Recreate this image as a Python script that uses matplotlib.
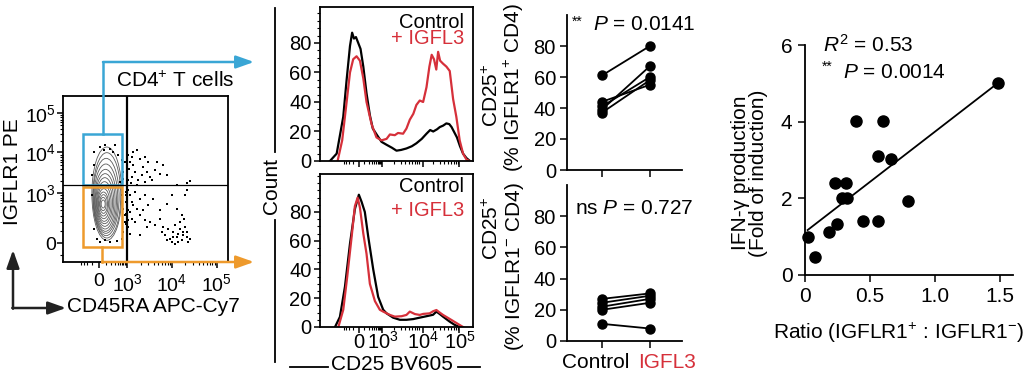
import numpy as np
import matplotlib
matplotlib.use("Agg")
import matplotlib.pyplot as plt
from matplotlib.patches import Ellipse, Rectangle
from matplotlib.ticker import MultipleLocator

W, H = 1025, 378
plt.rcParams.update({
    "font.family": ["Liberation Sans", "DejaVu Sans"],
    "font.size": 15,
    "xtick.labelsize": 14.5,
    "ytick.labelsize": 14.5,
    "mathtext.fontset": "custom",
    "mathtext.rm": "Liberation Sans",
    "mathtext.it": "Liberation Sans:italic",
    "mathtext.bf": "Liberation Sans:bold",
    "axes.linewidth": 1.3,
    "xtick.major.width": 1.1,
    "ytick.major.width": 1.1,
    "xtick.minor.width": 0.8,
    "ytick.minor.width": 0.8,
})

CYAN = "#3AA6D5"
ORANGE = "#EE9A2C"
RED = "#D6303A"

# --- flow plot (display channels) ---
contour_cx = [140, 140, 138, 137, 136, 135, 134, 133, 132, 131, 130, 130, 129, 129]
contour_cy = [205, 200, 195, 190, 185, 182, 180, 178, 176, 175, 174, 174, 174, 174]
contour_rx = [45, 42, 39, 36, 33, 30, 27, 24, 21, 18, 15, 12, 9, 6]
contour_ry = [140, 128, 116, 104, 93, 83, 73, 63, 54, 45, 36, 28, 20, 12]
dot_x = [205, 215, 210, 220, 230, 240, 250, 255, 265, 260, 245, 225, 215, 205, 235, 270, 285, 300, 310, 320,
         350, 380, 390, 290, 275, 255, 230, 212, 208, 218,
         205, 210, 215, 225, 240, 255, 265, 280, 300, 320, 335, 350, 365, 375, 380, 210, 215, 225, 240, 255,
         270, 285, 300, 240, 260, 230, 205, 210, 220, 250,
         305, 315, 325, 330, 340, 345, 350, 355, 360, 365, 370, 375, 380, 385, 390, 335, 320, 345, 360, 372,
         310, 355, 368, 382, 338,
         100, 120, 135, 150, 160, 175, 185, 190, 95, 100, 180, 185, 190, 195, 195, 190, 185, 110, 120, 135,
         150, 170, 100, 95, 195, 130, 165, 188, 198, 199,
         198, 202, 200, 203, 197, 201, 204, 199]
dot_y = [320, 315, 300, 290, 335, 310, 285, 315, 300, 270, 260, 270, 255, 245, 245, 255, 275, 265, 290, 260,
         232, 238, 242, 300, 245, 240, 232, 238, 278, 330,
         215, 200, 180, 210, 190, 200, 170, 190, 155, 175, 200, 160, 140, 200, 215, 150, 130, 120, 140, 125,
         120, 110, 130, 80, 105, 160, 105, 85, 170, 155,
         90, 80, 100, 70, 90, 110, 75, 85, 100, 65, 90, 105, 75, 60, 70, 60, 65, 55, 120, 130,
         105, 60, 80, 90, 75,
         330, 345, 350, 340, 330, 320, 305, 270, 260, 290, 240, 200, 160, 140, 120, 90, 70, 70, 60, 65,
         60, 62, 100, 200, 300, 335, 350, 250, 180, 210,
         200, 190, 170, 155, 145, 135, 125, 115]
flow_x_ticks = [117, 201, 336, 471]
flow_y_ticks = [56, 206, 329, 446]
log_labels = ["0", "10$^{3}$", "10$^{4}$", "10$^{5}$"]

# --- CD25 histograms (channel %, count) ---
top_ctrl_x = [6.5, 10.9, 15.2, 17.4, 19.6, 21.0, 22.2, 23.5, 25.0, 26.5, 28.3, 30.4, 32.6, 34.5, 37.0, 40.2,
              43.5, 47.0, 50.0, 53.0, 56.5, 60.0, 63.0, 66.5, 69.6, 72.0, 74.0, 76.5, 78.3, 80.5, 82.6, 84.5,
              86.0, 88.0, 89.5, 91.5, 93.5, 95.7, 98.0]
top_ctrl_y = [0, 5, 30, 55, 78, 87, 83, 84, 80, 76, 64, 46, 31, 22, 18, 13, 11, 9, 7, 7.5, 8.5, 10, 12, 15,
              18.5, 21, 20, 21.5, 23, 24, 25.5, 25, 23, 19, 16, 10, 5, 2, 0]
top_igfl_x = [11.5, 14.5, 17.4, 19.6, 21.7, 23.9, 26.1, 28.3, 30.4, 33.7, 36.9, 40.2, 43.5, 45.7, 48.9, 51.0,
              54.3, 56.5, 58.7, 61.0, 63.0, 65.2, 67.4, 69.6, 71.5, 73.0, 74.5, 76.0, 77.2, 78.5, 80.4, 82.6,
              84.8, 87.0, 89.1, 91.3, 93.5, 95.7, 97.8]
top_igfl_y = [0, 14, 40, 60, 69, 71, 68, 56, 40, 25, 16, 14, 15, 18, 17.5, 19, 18.5, 22, 28, 32, 38, 41, 40,
              50, 64, 72, 69, 62, 74, 68, 66, 64, 61, 42, 30, 14, 5, 1, 0]
bot_ctrl_x = [9.8, 13, 16.3, 19.6, 22.8, 25.4, 27.2, 29.3, 31.5, 34.8, 38, 41.3, 43.5, 47.8, 52.2, 56.5, 60.9,
              65.2, 69.6, 73.9, 76.1, 78.3, 80.4, 84.8, 88, 91.3]
bot_ctrl_y = [0, 7, 28, 58, 82, 92, 87, 80, 63, 40, 21, 12, 9.5, 6.5, 5, 5, 5.5, 6.5, 7.5, 8.5, 10.7, 9, 7.2,
              3.7, 1.5, 0]
bot_igfl_x = [12, 15.2, 17.8, 20.7, 22.8, 24.6, 26.1, 28.3, 30.4, 32.6, 35.9, 39.1, 41.3, 45.7, 48.9, 53.3,
              56.5, 58.7, 62.0, 65.2, 67.4, 71.7, 74, 76.1, 78.3, 80.4, 85.9, 91.3, 93.5]
bot_igfl_y = [0, 12, 35, 63, 84, 90, 83, 65, 51, 30, 18, 12, 10.7, 8.4, 7.2, 7.5, 8.4, 10.7, 9, 8.4, 9.1, 9.5,
              11, 11.8, 10, 8.4, 4.9, 1.4, 0]
hist_x_ticks = [25.4, 40.5, 67, 91]

# --- paired CD25+ percentages ---
groups = ["Control", "IGFL3"]
pos_ctrl = [61, 44, 41, 39, 37]
pos_igfl = [80, 55, 60, 67, 58]
neg_ctrl = [11, 20, 22, 24.5, 27]
neg_igfl = [8, 24.5, 27, 29, 30.5]

# --- correlation ---
ratio = [0.026, 0.077, 0.185, 0.244, 0.23, 0.313, 0.282, 0.32, 0.392, 0.444, 0.564, 0.564, 0.603, 0.662,
         0.795, 1.487]
ifng = [0.98, 0.48, 1.12, 1.33, 2.41, 2.41, 2.02, 2.02, 4.02, 1.42, 1.42, 3.10, 4.02, 3.02, 1.93, 5.02]
fit_slope, fit_intercept = 2.62, 1.12
fit_x = [0.02, 1.487]


def box(l, t, r, b):
    return [l / W, 1 - b / H, (r - l) / W, (b - t) / H]


def minor_ticks(zero, d3, dec, lo, hi):
    t = [d3 + k * dec + dec * np.log10(m) for k in range(2) for m in range(2, 10)]
    t += [zero + (d3 - zero) * np.arcsinh(v / 150) / np.arcsinh(1000 / 150)
          for v in range(-400, 1000, 100) if v != 0]
    return [v for v in t if lo < v < hi]


fig = plt.figure(figsize=(W / 100, H / 100), dpi=100)

# Flow plot
ax = fig.add_axes(box(63, 96, 228, 262))
ax.set_xlim(8, 505)
ax.set_ylim(0, 498)
for cx, cy, rx, ry in zip(contour_cx, contour_cy, contour_rx, contour_ry):
    ax.add_patch(Ellipse((cx, cy), 2 * rx, 2 * ry, fill=False, ec="#5a5a5a", lw=0.6))
ax.scatter(dot_x, dot_y, s=1.5, c="k", marker="s", lw=0)
ax.axvline(201, color="k", lw=1.6)
ax.axhline(230, color="k", lw=0.9)
ax.add_patch(Rectangle((67, 230), 120, 153, fill=False, ec=CYAN, lw=1.8))
ax.add_patch(Rectangle((67, 45), 120, 180, fill=False, ec=ORANGE, lw=1.8))
ax.set_xticks(flow_x_ticks, log_labels, fontsize=14)
ax.set_yticks(flow_y_ticks, log_labels, fontsize=14)
ax.set_xticks(minor_ticks(117, 201, 135, 8, 505), minor=True)
ax.set_yticks(minor_ticks(56, 206, 120, 0, 498), minor=True)
ax.tick_params(axis="x", length=4, pad=4)
ax.tick_params(axis="y", length=4, pad=1)
ax.tick_params(which="minor", length=2.5)

# Histograms
hists = [((320, 7, 473, 161), 104.4, top_ctrl_x, top_ctrl_y, top_igfl_x, top_igfl_y),
         ((320, 174, 473, 327), 106.4, bot_ctrl_x, bot_ctrl_y, bot_igfl_x, bot_igfl_y)]
for rect, ytop, cx, cy, ix, iy in hists:
    ax = fig.add_axes(box(*rect))
    ax.plot(cx, cy, color="k", lw=1.6)
    ax.plot(ix, iy, color=RED, lw=1.6)
    ax.set_xlim(0, 100)
    ax.set_ylim(0, ytop)
    ax.set_yticks([0, 20, 40, 60, 80])
    ax.yaxis.set_minor_locator(MultipleLocator(5))
    ax.set_xticks(hist_x_ticks, [""] * 4)
    ax.set_xticks(minor_ticks(25.4, 40.5, 25.5, 0, 100), minor=True)
    ax.tick_params(length=4, pad=2)
    ax.tick_params(which="minor", length=2)

# Paired plots
pairs = [((567, 15, 682, 170), pos_ctrl, pos_igfl),
         ((567, 185, 682, 341), neg_ctrl, neg_igfl)]
for rect, a, b in pairs:
    ax = fig.add_axes(box(*rect))
    for c, g in zip(a, b):
        ax.plot([0, 1], [c, g], "-o", color="k", ms=6.5, lw=1.3, clip_on=False)
    ax.set_xlim(-0.73, 1.67)
    ax.set_ylim(0, 100)
    ax.set_yticks([0, 20, 40, 60, 80])
    ax.set_xticks([0, 1], ["", ""])
    ax.spines[["top", "right"]].set_visible(False)
    ax.tick_params(length=5, pad=3)

# Correlation
ax = fig.add_axes(box(805, 45, 1013, 275))
ax.plot(ratio, ifng, "o", color="k", ms=8, clip_on=False, zorder=3)
ax.plot(fit_x, [fit_slope * v + fit_intercept for v in fit_x], color="k", lw=1.3)
ax.set_xlim(0, 1.6)
ax.set_ylim(0, 6)
ax.set_xticks([0, 0.5, 1.0, 1.5], ["0", "0.5", "1.0", "1.5"], fontsize=15)
ax.set_yticks([0, 2, 4, 6], ["0", "2", "4", "6"], fontsize=15)
ax.spines[["top", "right"]].set_visible(False)
ax.tick_params(length=5, pad=4)

# Overlay in pixel coordinates: annotations, arrows, labels
ov = fig.add_axes([0, 0, 1, 1], zorder=10)
ov.set_xlim(0, W)
ov.set_ylim(H, 0)
ov.axis("off")
ov.patch.set_alpha(0)


def arrow(x0, y0, x1, y1, color):
    ov.annotate("", xy=(x1, y1), xytext=(x0, y0),
                arrowprops=dict(arrowstyle="-|>,head_length=0.9,head_width=0.32", color=color, lw=1.8,
                                shrinkA=0, shrinkB=0, mutation_scale=12))


ov.plot([103, 103], [134, 62], color=CYAN, lw=1.8)
arrow(103, 62, 254, 62, CYAN)
ov.plot([102, 102], [247, 262], color=ORANGE, lw=1.8)
arrow(102, 262, 254, 262, ORANGE)
arrow(13, 308.7, 13, 250, "#222222")
arrow(12.3, 308, 66, 308, "#222222")

ov.plot([275, 275], [8, 152], color="k", lw=1.3)
ov.plot([275, 275], [220, 362], color="k", lw=1.3)
ov.plot([290, 328], [367, 367], color="k", lw=1.3)
ov.plot([458, 480], [367, 367], color="k", lw=1.3)

# histogram x tick labels (bottom panel)
for xpx, lab in zip([359, 383, 423, 460], log_labels):
    ov.text(xpx, 342, lab, ha="center", va="center", fontsize=14.5)
# paired x labels
ov.text(596, 363, groups[0], ha="center", va="center")
ov.text(667, 363, groups[1], ha="center", va="center", color=RED)

ov.text(175, 81, "CD4$^{+}$ T cells", ha="center", va="center")
ov.text(13, 172, "IGFLR1 PE", ha="center", va="center", rotation=90)
ov.text(153, 306, "CD45RA APC-Cy7", ha="center", va="center")
ov.text(271, 186, "Count", ha="center", va="center", rotation=90)
ov.text(392, 365, "CD25 BV605", ha="center", va="center")
ov.text(464, 22, "Control", ha="right", va="center", fontsize=14.5)
ov.text(464, 39, "+ IGFL3", ha="right", va="center", color=RED, fontsize=14.5)
ov.text(464, 187, "Control", ha="right", va="center", fontsize=14.5)
ov.text(464, 210, "+ IGFL3", ha="right", va="center", color=RED, fontsize=14.5)
ov.text(492, 95, "CD25$^{+}$", ha="center", va="center", rotation=90)
ov.text(514, 88, "(% IGFLR1$^{+}$ CD4)", ha="center", va="center", rotation=90)
ov.text(492, 228, "CD25$^{+}$", ha="center", va="center", rotation=90)
ov.text(514, 267, "(% IGFLR1$^{-}$ CD4)", ha="center", va="center", rotation=90)
ov.text(572, 22, "**", ha="left", va="center", fontsize=10)
ov.text(593, 24, "$P$ = 0.0141", ha="left", va="center")
ov.text(575, 208, "ns $P$ = 0.727", ha="left", va="center")
ov.text(823, 45, "$R^{2}$ = 0.53", ha="left", va="center")
ov.text(822, 67, "**", ha="left", va="center", fontsize=10)
ov.text(843, 72, "$P$ = 0.0014", ha="left", va="center")
ov.text(741, 173, "IFN-γ production", ha="center", va="center", rotation=90)
ov.text(758, 173, "(Fold of induction)", ha="center", va="center", rotation=90)
ov.text(899, 333, "Ratio (IGFLR1$^{+}$ : IGFLR1$^{-}$)", ha="center", va="center")

fig.savefig("out.png", dpi=100)
